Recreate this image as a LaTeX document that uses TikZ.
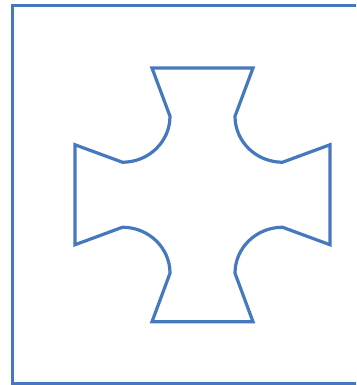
\documentclass[tikz,border=0pt]{standalone}
\definecolor{shapeblue}{RGB}{70,120,190}
\begin{document}
\begin{tikzpicture}[x=1pt,y=1pt,
  outline/.style={draw=shapeblue,line width=3.2pt,line join=miter},
  frame/.style={draw=shapeblue,line width=3.2pt}]
\useasboundingbox (0,0) rectangle (356,385);
\clip (0,0) rectangle (356,385);
% outer frame
\draw[frame] (12.8,1) rectangle (362,379.5);
% cross-shaped outline
\coordinate (A) at (152,317);
\coordinate (B) at (253,317);
\coordinate (C) at (235,268.75);
\coordinate (E) at (330,240.25);
\coordinate (F) at (330,140.25);
\coordinate (G) at (282.5,157.75);
\coordinate (I) at (253,63.25);
\coordinate (J) at (152,63.25);
\coordinate (K) at (170,111.75);
\coordinate (M) at (75,140.25);
\coordinate (N) at (75,240.25);
\coordinate (O) at (122.5,222.75);
\draw[outline] (A) -- (B) -- (C)
  arc[start angle=180,end angle=270,x radius=47.5,y radius=46] -- (E) -- (F) -- (G)
  arc[start angle=90,end angle=180,x radius=47.5,y radius=46] -- (I) -- (J) -- (K)
  arc[start angle=0,end angle=90,x radius=47.5,y radius=46] -- (M) -- (N) -- (O)
  arc[start angle=270,end angle=360,x radius=47.5,y radius=46] -- cycle;
\end{tikzpicture}
\end{document}
